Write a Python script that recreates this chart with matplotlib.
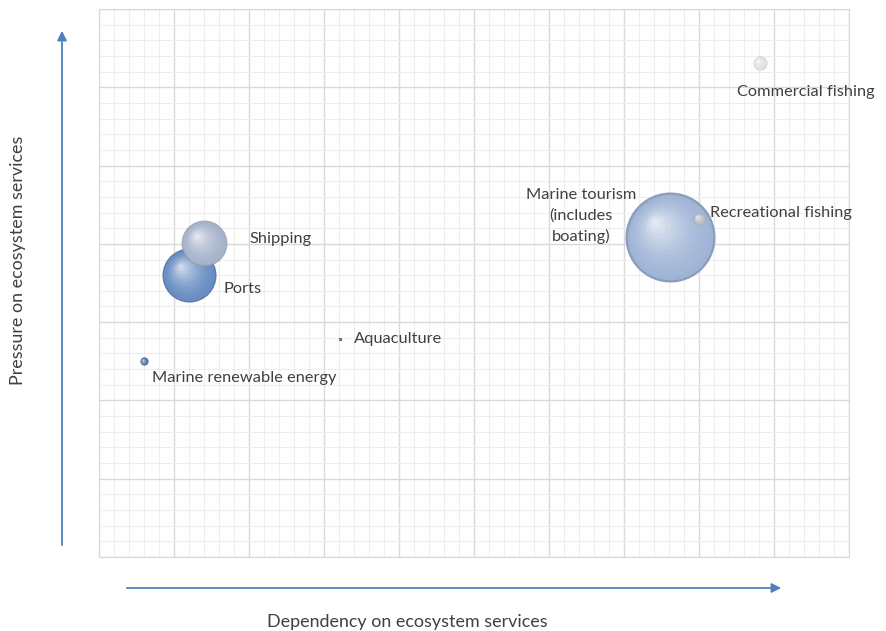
import numpy as np
import matplotlib
matplotlib.use("Agg")
import matplotlib.pyplot as plt
from matplotlib.colors import to_rgb
from matplotlib.transforms import offset_copy

# data (x = dependency, y = pressure, size = bubble value)
sectors = ["Commercial fishing", "Recreational fishing", "Marine tourism\n(includes\nboating)",
           "Shipping", "Ports", "Aquaculture", "Marine renewable energy"]
dependency = [8.81, 8.00, 7.61, 1.40, 1.20, 3.21, 0.60]
pressure = [6.31, 4.32, 4.09, 4.01, 3.60, 2.78, 2.50]
bubble = [2.4, 1.8, 100, 26, 36, 0.12, 0.8]
colors = ["#e2e2e2", "#b8bcc4", "#a2b6d8", "#a7b4cc", "#6b8fc4", "#555a66", "#55739f"]
# label offsets (points) and alignment
lab_off = [(33, -21), (8, 4), (-64, 15), (33, 3), (25, -10), (10, 0), (6, -12)]
lab_ha = ["center", "left", "center", "left", "left", "left", "left"]

plt.rcParams["font.family"] = ["Lato", "DejaVu Sans"]
fig = plt.figure(figsize=(8.86, 6.31), dpi=100)
ax = fig.add_axes([99 / 886, 74 / 631, 750 / 886, 548 / 631])
ax.set_xlim(0, 10)
ax.set_ylim(0, 7)
ax.set_xticks(np.arange(0, 11, 1))
ax.set_yticks(np.arange(0, 8, 1))
ax.set_xticks(np.arange(0, 10.01, 0.2), minor=True)
ax.set_yticks(np.arange(0, 7.01, 0.2), minor=True)
ax.tick_params(which="both", length=0, labelbottom=False, labelleft=False)
ax.grid(which="major", color="#d9d9d9", lw=1.0)
ax.grid(which="minor", color="#eeeeee", lw=0.8)
ax.set_axisbelow(True)
for s in ax.spines.values():
    s.set_color("#d9d9d9")

k = 42  # points^2 per bubble unit
order = np.argsort(bubble)[::-1]  # big ones first so small ones sit on top
for z, i in enumerate(order):
    x, y = dependency[i], pressure[i]
    s = bubble[i] * k
    r = np.sqrt(s) / 2
    base = np.array(to_rgb(colors[i]))
    dark = base * 0.86
    zo = 3 + z * 0.01
    a = 0.85 if sectors[i] == "Shipping" else 1.0
    ax.scatter(x, y, s=s, color=dark, zorder=zo, lw=0, alpha=a)
    # fake 3d shading: shrinking, lighter circles shifted to the upper left
    n = 14
    for j in range(n):
        f = 1 - j / n
        c = base + (1 - base) * (j / n) ** 1.6 * 0.8
        tr = offset_copy(ax.transData, fig=fig, x=-r * 0.35 * (1 - f), y=r * 0.35 * (1 - f), units="points")
        ax.scatter(x, y, s=s * (0.95 * f) ** 2, color=c, zorder=zo, lw=0, transform=tr, alpha=0.9)
    ax.annotate(sectors[i], (x, y), xytext=lab_off[i], textcoords="offset points",
                ha=lab_ha[i], va="center", fontsize=11.8, color="#404040",
                multialignment="center", linespacing=1.5, zorder=4)

# axis arrows outside the plot area
arrow = dict(arrowstyle="-|>", color="#4f81bd", lw=1.3, mutation_scale=14)
fig.add_artist(matplotlib.patches.FancyArrowPatch((62, 83), (62, 603), transform=None, **arrow))
fig.add_artist(matplotlib.patches.FancyArrowPatch((124, 43), (784, 43), transform=None, **arrow))

fig.text(18 / 886, 371 / 631, "Pressure on ecosystem services", rotation=90,
         ha="center", va="center", fontsize=12.9, color="#404040")
fig.text(407 / 886, 9 / 631, "Dependency on ecosystem services",
         ha="center", va="center", fontsize=12.9, color="#404040")

fig.savefig("out.png", dpi=100)
